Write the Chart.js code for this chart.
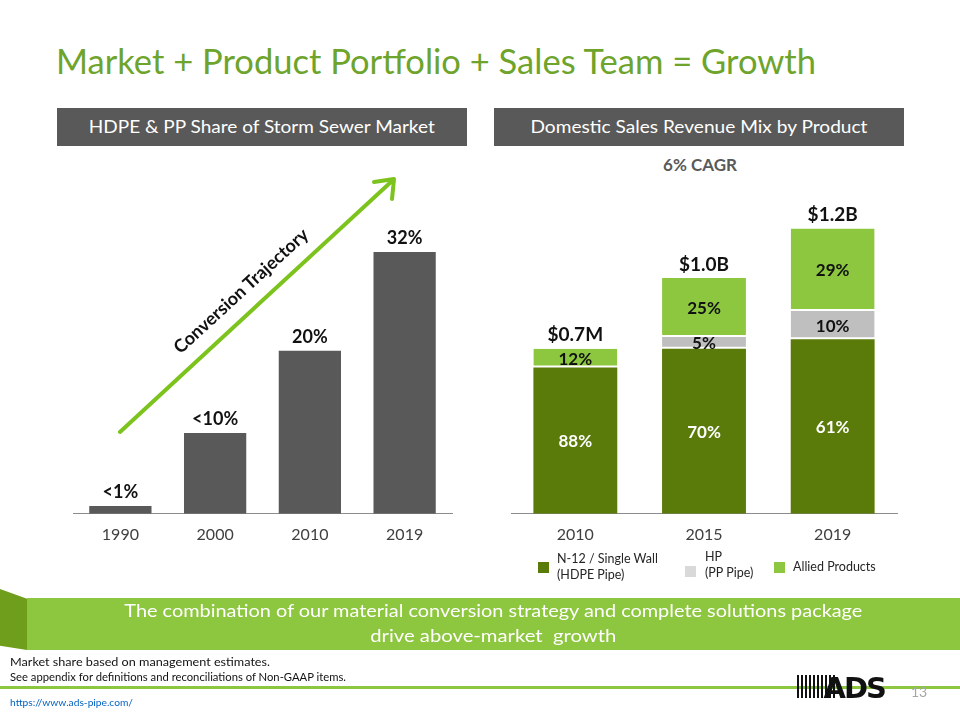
<!DOCTYPE html>
<html>
<head>
<meta charset="utf-8">
<script src="https://cdn.jsdelivr.net/npm/chart.js@4.4.0/dist/chart.umd.min.js"></script>
<style>
  body { margin: 0; width: 960px; height: 720px; position: relative; background: #fff; overflow: hidden; font-family: Lato, "Open Sans", sans-serif; }
  .abs { position: absolute; white-space: nowrap; }
  .fit { display: inline-block; transform-origin: left center; }
  .fitc { display: inline-block; transform-origin: center center; }
  #title { left: 56px; top: 40px; font-size: 34px; font-weight: 400; color: #6EA42B; }
  .hdr { top: 108px; width: 410px; height: 38px; background: #595959; color: #fff; font-size: 17px; text-align: center; line-height: 38px; }
  #cagr { left: 600px; top: 154px; width: 200px; text-align: center; font-size: 17px; font-weight: bold; color: #595959; }
  #leftChart { left: 0; top: 140px; }
  #rightChart { left: 480px; top: 140px; }
  .leg { font-size: 12.5px; color: #262626; line-height: 16px; }
  .sq { width: 11px; height: 11px; }
  #band { left: 27px; top: 598px; width: 933px; height: 52px; background: #8DC63F; color: #fff; font-size: 17px; font-weight: 400; text-align: center; line-height: 25px; }
  #wedge { left: 0; top: 589px; width: 27px; height: 61px; background: #6E9E1C; clip-path: polygon(0 0, 100% 16%, 100% 100%, 0 93%); }
  .note { left: 10px; font-size: 10.5px; color: #111; }
  #rule { left: 0; top: 686px; width: 960px; height: 3px; background: #8DC63F; }
  #link { left: 10px; top: 696px; font-size: 10px; color: #0563C1; text-decoration: underline; }
  #logo { left: 797px; top: 671px; width: 90px; height: 30px; }
  #pg { left: 911px; top: 683px; font-size: 14px; color: #A6A6A6; }
</style>
</head>
<body>

<div class="abs" id="title"><span class="fit" data-w="760">Market + Product Portfolio + Sales Team = Growth</span></div>
<div class="abs hdr" style="left:57px"><span class="fitc" data-w="346">HDPE &amp; PP Share of Storm Sewer Market</span></div>
<div class="abs hdr" style="left:494px"><span class="fitc" data-w="337">Domestic Sales Revenue Mix by Product</span></div>
<div class="abs" id="cagr">6% CAGR</div>

<canvas class="abs" id="leftChart" width="480" height="420"></canvas>
<canvas class="abs" id="rightChart" width="480" height="420"></canvas>

<svg class="abs" style="left:0;top:0" width="960" height="720">
  <line x1="120" y1="432" x2="392" y2="181" stroke="#7DC31E" stroke-width="4" stroke-linecap="round"/>
  <polyline points="374,182 394,179 392,199" fill="none" stroke="#7DC31E" stroke-width="4" stroke-linecap="round" stroke-linejoin="round"/>
  <text x="242" y="292" transform="rotate(-42.5 242 292)" text-anchor="middle" dominant-baseline="middle"
        font-family="Lato, sans-serif" font-weight="bold" font-size="18" fill="#111">Conversion Trajectory</text>
</svg>

<!-- legend -->
<div class="abs sq" style="left:538px;top:562px;background:#5A7A0A"></div>
<div class="abs leg" style="left:557px;top:551px">N-12 / Single Wall<br>(HDPE Pipe)</div>
<div class="abs sq" style="left:685px;top:566px;background:#D9D9D9"></div>
<div class="abs leg" style="left:705px;top:549px">HP<br>(PP Pipe)</div>
<div class="abs sq" style="left:774px;top:562px;background:#8DC63F"></div>
<div class="abs leg" style="left:793px;top:559px">Allied Products</div>

<!-- bottom band -->
<div class="abs" id="wedge"></div>
<div class="abs" id="band">
  <span class="fitc" data-w="738">The combination of our material conversion strategy and complete solutions package</span><br>
  <span class="fitc" data-w="246">drive above-market&nbsp; growth</span>
</div>

<div class="abs note" style="top:656px"><span class="fit" data-w="260">Market share based on management estimates.</span></div>
<div class="abs note" style="top:671px"><span class="fit" data-w="336">See appendix for definitions and reconciliations of Non-GAAP items.</span></div>
<div class="abs" id="rule"></div>
<div class="abs" id="link"><span class="fit" data-w="123">https://www.ads-pipe.com/</span></div>

<svg class="abs" id="logo" width="90" height="30">
  <defs>
    <pattern id="stripes" width="4" height="30" patternUnits="userSpaceOnUse">
      <rect x="0" y="0" width="2" height="30" fill="#111"/>
    </pattern>
  </defs>
  <rect x="0" y="4" width="38" height="23" fill="url(#stripes)"/>
  <text x="88" y="27" text-anchor="end" font-family="'DejaVu Sans', sans-serif" font-weight="bold" font-size="29" fill="#111" letter-spacing="-2">ADS</text>
</svg>
<div class="abs" id="pg">13</div>

<script>
// left chart: HDPE & PP share of storm sewer market (%)
const shareYears = ['1990', '2000', '2010', '2019'];
const shareValues = [0.95, 9.9, 20.0, 32.1];
const shareLabels = ['<1%', '<10%', '20%', '32%'];

// right chart: domestic sales revenue mix ($B)
const mixYears = ['2010', '2015', '2019'];
const n12Values = [0.62, 0.70, 0.74];
const hpValues = [null, 0.05, 0.12];
const alliedValues = [0.08, 0.25, 0.35];
const n12Labels = ['88%', '70%', '61%'];
const hpLabels = ['', '5%', '10%'];
const alliedLabels = ['12%', '25%', '29%'];
const totalLabels = ['$0.7M', '$1.0B', '$1.2B'];

const FONT = 'Lato, "Open Sans", sans-serif';

const xAxis = {
    grid: { display: false, drawTicks: false },
    border: { display: true, color: '#8C8C8C', width: 1 },
    ticks: { color: '#404040', padding: 11, font: { family: FONT, size: 16 } }
};

const shareLabelPlugin = {
    id: 'shareLabels',
    afterDatasetsDraw(chart) {
        const ctx = chart.ctx;
        ctx.save();
        ctx.font = 'bold 18px ' + FONT;
        ctx.fillStyle = '#111';
        ctx.textAlign = 'center';
        ctx.textBaseline = 'bottom';
        chart.getDatasetMeta(0).data.forEach((bar, i) => {
            ctx.fillText(shareLabels[i], bar.x, bar.y - 5);
        });
        ctx.restore();
    }
};

const mixLabelPlugin = {
    id: 'mixLabels',
    afterDatasetsDraw(chart) {
        const ctx = chart.ctx;
        const segLabels = [n12Labels, hpLabels, alliedLabels];
        const segColors = ['#fff', '#111', '#111'];
        ctx.save();
        ctx.textAlign = 'center';
        ctx.font = 'bold 17px ' + FONT;
        ctx.textBaseline = 'middle';
        segLabels.forEach((labels, d) => {
            ctx.fillStyle = segColors[d];
            chart.getDatasetMeta(d).data.forEach((bar, i) => {
                if (!labels[i]) return;
                ctx.fillText(labels[i], bar.x, (bar.y + bar.base) / 2 + 1);
            });
        });
        // totals over the top segment
        ctx.font = 'bold 19px ' + FONT;
        ctx.fillStyle = '#111';
        ctx.textBaseline = 'bottom';
        chart.getDatasetMeta(2).data.forEach((bar, i) => {
            ctx.fillText(totalLabels[i], bar.x, bar.y - 4);
        });
        ctx.restore();
    }
};

new Chart(document.getElementById('leftChart'), {
    type: 'bar',
    data: {
        labels: shareYears,
        datasets: [{
            data: shareValues,
            backgroundColor: '#595959',
            categoryPercentage: 1,
            barPercentage: 0.657
        }]
    },
    options: {
        responsive: false,
        animation: false,
        layout: { padding: { left: 73, right: 28, top: 20, bottom: 5 } },
        plugins: { legend: { display: false }, tooltip: { enabled: false } },
        scales: {
            x: xAxis,
            y: { display: false, min: 0, max: 43.4 }
        }
    },
    plugins: [shareLabelPlugin]
});

const segBorder = { top: 0, left: 0, right: 0, bottom: 2 };

new Chart(document.getElementById('rightChart'), {
    type: 'bar',
    data: {
        labels: mixYears,
        datasets: [
            { label: 'N-12 / Single Wall (HDPE Pipe)', data: n12Values, backgroundColor: '#5A7A0A' },
            { label: 'HP (PP Pipe)', data: hpValues, backgroundColor: '#BFBFBF', borderColor: '#fff', borderWidth: segBorder, borderSkipped: false },
            { label: 'Allied Products', data: alliedValues, backgroundColor: '#8DC63F', borderColor: '#fff', borderWidth: segBorder, borderSkipped: false }
        ]
    },
    options: {
        responsive: false,
        animation: false,
        datasets: { bar: { categoryPercentage: 1, barPercentage: 0.652 } },
        layout: { padding: { left: 31, right: 63, top: 20, bottom: 5 } },
        plugins: { legend: { display: false }, tooltip: { enabled: false } },
        scales: {
            x: Object.assign({}, xAxis, { stacked: true }),
            y: { display: false, stacked: true, min: 0, max: 1.5 }
        }
    },
    plugins: [mixLabelPlugin]
});

// squeeze the condensed slide text to the widths of the original
document.querySelectorAll('[data-w]').forEach(el => {
    const w = el.getBoundingClientRect().width;
    el.style.transform = 'scaleX(' + (parseFloat(el.dataset.w) / w) + ')';
});
</script>
</body>
</html>
